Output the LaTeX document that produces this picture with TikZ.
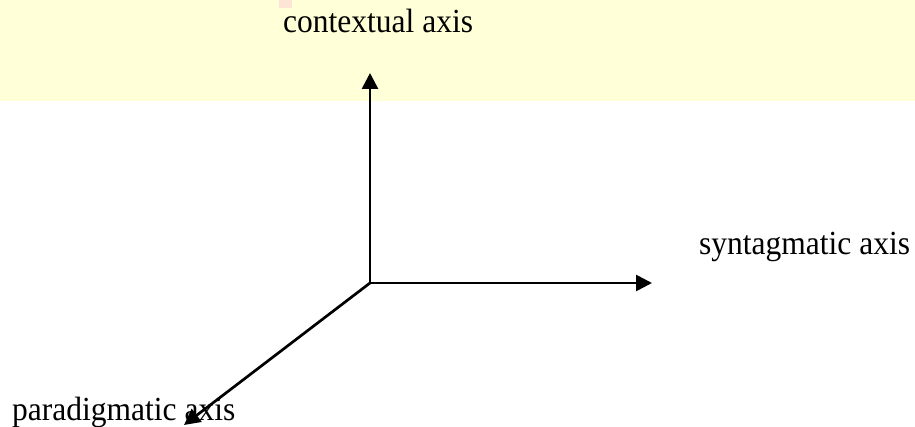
\documentclass[tikz,border=0pt]{standalone}
\usepackage{fontspec}
\setmainfont{Liberation Serif}
\usetikzlibrary{arrows.meta}
\definecolor{bandyellow}{RGB}{255,255,216}
\definecolor{speck}{RGB}{253,228,214}
\tikzset{
  axis/.style={line width=2.7pt,-{Triangle[length=16pt,width=16pt]}},
  lbl/.style={inner sep=0pt,anchor=base west,yscale=1.07,font=\fontsize{31.5}{36}\selectfont}
}
\begin{document}
\begin{tikzpicture}[x=1pt,y=-1pt]
\useasboundingbox (0,0) rectangle (915,427);
\fill[white] (0,0) rectangle (915,427);
\fill[bandyellow] (0,0) rectangle (915,101);
\fill[speck] (279,0) rectangle (292,8);
\coordinate (O) at (370,283);
\coordinate (C) at (370,73);
\coordinate (S) at (652,283);
\coordinate (P) at (184,425);
\draw[axis] (O) -- (C);
\draw[axis] (O) -- (S);
\draw[axis] (O) -- (P);
\node[lbl] (ctx) at (283,33) {contextual axis};
\node[lbl] (syn) at (699,255) {syntagmatic axis};
\node[lbl] (par) at (12,420) {paradigmatic axis};
\end{tikzpicture}
\end{document}
